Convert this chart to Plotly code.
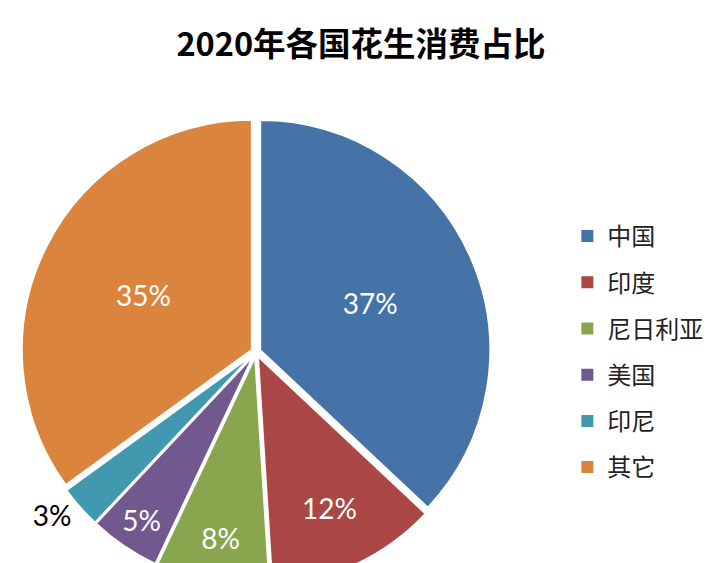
import plotly.graph_objects as go

labels = ["中国", "印度", "尼日利亚", "美国", "印尼", "其它"]
values = [37, 12, 8, 5, 3, 35]
colors = ["#4572A7", "#AA4643", "#89A54E", "#71588F", "#4198AF", "#DB843D"]
title_text = "2020年各国花生消费占比"

W, H = 720, 650
off = 8  # page body margin
cx, cy, R = 252 - off, 352 - off, 232
pull = 0.02
half = R * (1 + pull)

fig = go.Figure()
fig.add_trace(go.Pie(
    labels=labels, values=values, sort=False, direction="clockwise", rotation=0,
    marker=dict(colors=colors, line=dict(color="white", width=2)),
    pull=[pull] * len(values),
    text=[f"{v}%" for v in values], textinfo="text",
    textposition=["inside", "inside", "inside", "inside", "outside", "inside"],
    insidetextorientation="horizontal",
    insidetextfont=dict(color="white", size=28, family="Lato"),
    outsidetextfont=dict(color="black", size=28, family="Lato"),
    showlegend=False, hoverinfo="label+percent",
    domain=dict(x=[(cx - half) / W, (cx + half) / W],
                y=[1 - (cy + half) / H, 1 - (cy - half) / H]),
))

for lab, col in zip(labels, colors):
    fig.add_trace(go.Scatter(
        x=[None], y=[None], mode="markers", name=lab, legendgroup=lab,
        marker=dict(symbol="square", size=12, color=col),
    ))

fig.update_layout(
    width=W, height=H,
    margin=dict(l=0, r=0, t=0, b=0),
    paper_bgcolor="white", plot_bgcolor="white",
    xaxis=dict(visible=False), yaxis=dict(visible=False),
    title=dict(text=f"<b>{title_text}</b>", x=(361 - off) / W, xanchor="center",
               y=1 - (45 - off) / H, yanchor="middle",
               font=dict(family="Noto Sans CJK SC", size=32.5, color="black")),
    legend=dict(x=(584 - off - 18) / W, xanchor="left", y=1 - (214 - off) / H, yanchor="top",
                font=dict(family="Noto Sans CJK SC", size=24, color="#222"),
                tracegroupgap=12, bgcolor="rgba(0,0,0,0)"),
)

fig.write_html("out.html")
